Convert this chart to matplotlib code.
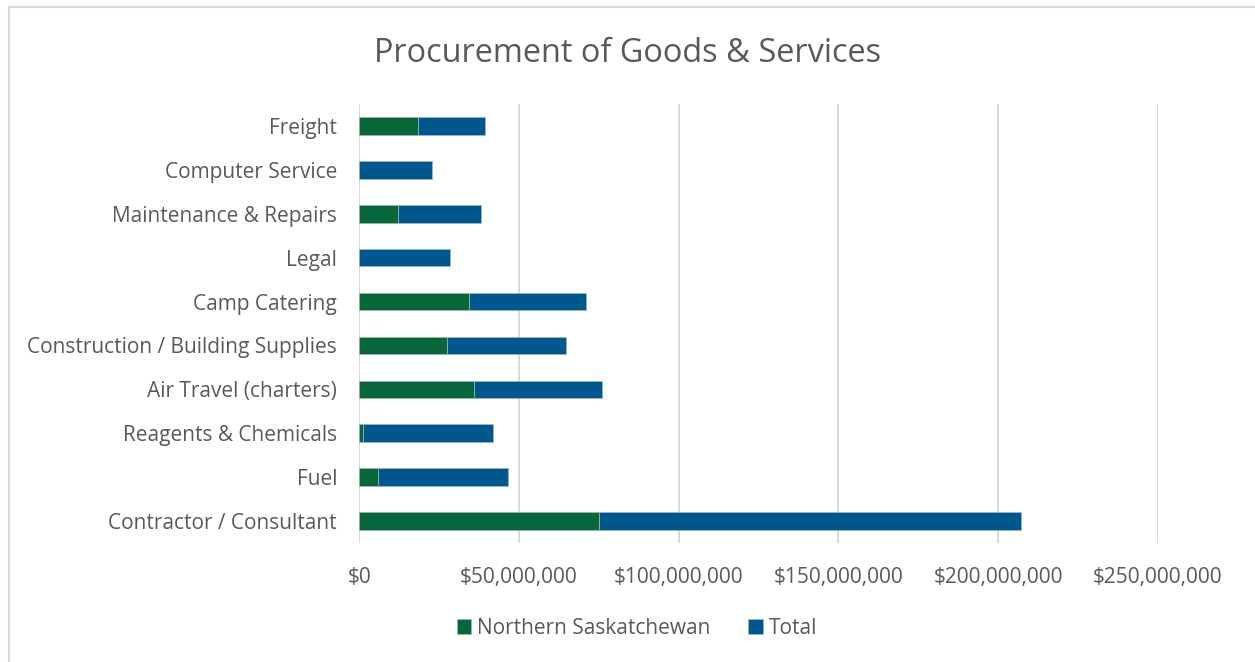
import matplotlib
matplotlib.use("Agg")
import matplotlib.pyplot as plt
from matplotlib.patches import Rectangle
from matplotlib.ticker import FuncFormatter

# categories bottom to top
categories = [
    "Contractor / Consultant",
    "Fuel",
    "Reagents & Chemicals",
    "Air Travel (charters)",
    "Construction / Building Supplies",
    "Camp Catering",
    "Legal",
    "Maintenance & Repairs",
    "Computer Service",
    "Freight",
]
# values in dollars
northern_sask = [75.2e6, 5.8e6, 1.25e6, 35.8e6, 27.5e6, 34.4e6, 0, 12.2e6, 0, 18.5e6]
total = [132.1e6, 40.8e6, 40.6e6, 40.3e6, 37.2e6, 36.5e6, 28.5e6, 26.0e6, 22.8e6, 20.9e6]
xticks = [0, 50e6, 100e6, 150e6, 200e6, 250e6]

green = "#07673A"
blue = "#01578B"
text_color = "#595959"
grid_color = "#D9D9D9"

plt.rcParams["font.family"] = ["Open Sans", "DejaVu Sans"]

W, H = 1255, 662
fig = plt.figure(figsize=(W / 100, H / 100), dpi=100)
ax = fig.add_axes([359.3 / W, 1 - 543 / H, (1157.7 - 359.3) / W, (543 - 104) / H])

y = range(len(categories))
ax.barh(y, northern_sask, height=0.4, color=green, label="Northern Saskatchewan",
        edgecolor="#9FB9A9", linewidth=0.5, zorder=3)
ax.barh(y, total, left=northern_sask, height=0.4, color=blue, label="Total",
        edgecolor="#9DB8CC", linewidth=0.5, zorder=3)

ax.set_xlim(0, 250e6)
ax.set_ylim(-0.5, len(categories) - 0.5)
ax.set_xticks(xticks)
ax.xaxis.set_major_formatter(FuncFormatter(lambda v, p: "${:,.0f}".format(v)))
ax.set_yticks(list(y))
ax.set_yticklabels(categories)
ax.tick_params(axis="both", length=0, labelsize=15, labelcolor=text_color)
ax.tick_params(axis="y", pad=16)
ax.tick_params(axis="x", pad=17)
ax.grid(axis="x", color=grid_color, linewidth=1.4, zorder=0)
for s in ax.spines.values():
    s.set_visible(False)

fig.text(0.5, 1 - 53 / H, "Procurement of Goods & Services", ha="center", va="center",
         fontsize=23.4, color=text_color)

leg = fig.legend(loc="center", bbox_to_anchor=(637 / W, 1 - 628 / H), ncol=2, frameon=False,
                 fontsize=15, handlelength=0.7, handleheight=0.7, handletextpad=0.3,
                 columnspacing=1.8)
for t in leg.get_texts():
    t.set_color(text_color)

# outer chart border (only left and top edges visible in the crop)
fig.patches.append(Rectangle((8.5 / W, -0.1), 1.2, 1 - 6.5 / H + 0.1, transform=fig.transFigure,
                             fill=False, edgecolor="#D9D9D9", linewidth=1.5))

fig.savefig("out.png", dpi=100, facecolor="white")
